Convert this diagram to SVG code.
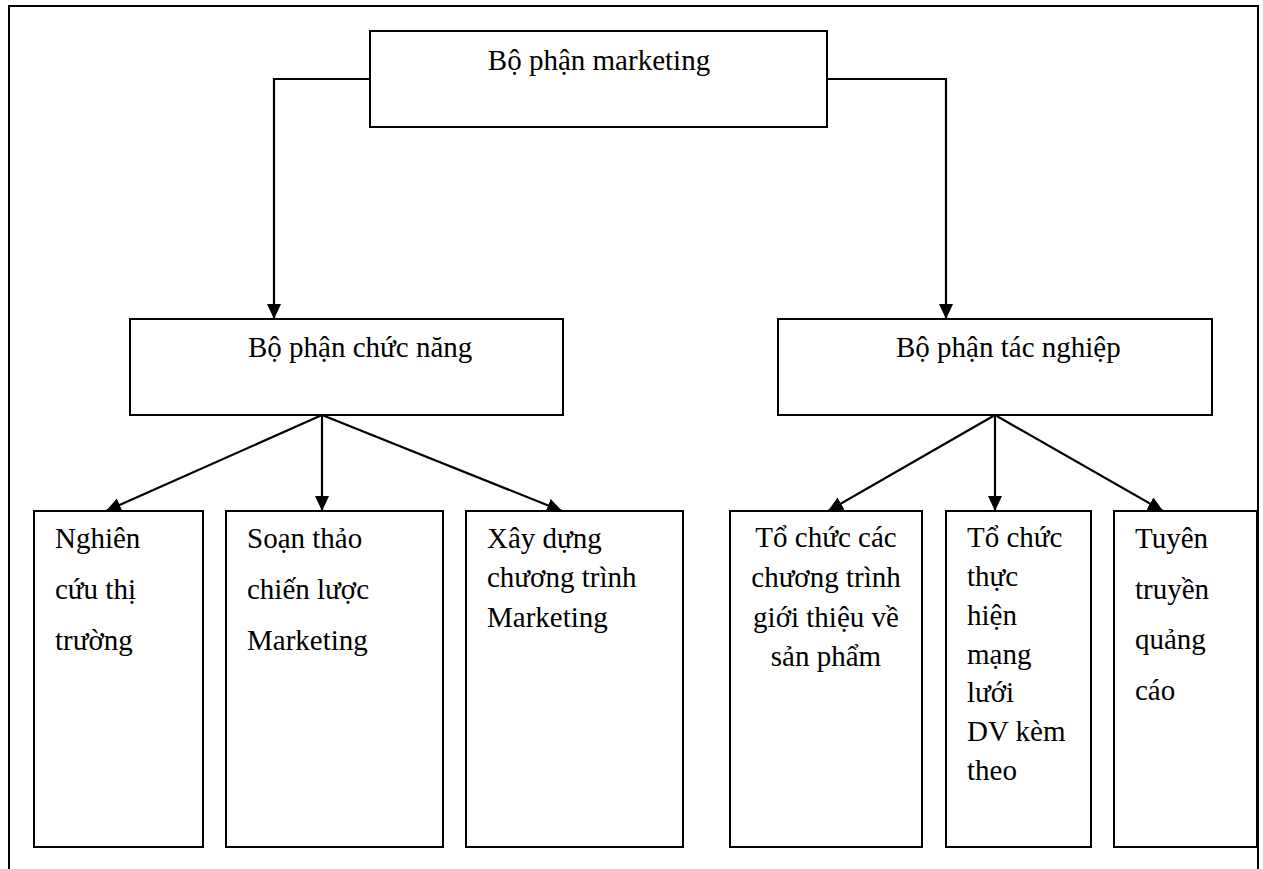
<svg xmlns="http://www.w3.org/2000/svg" width="1263" height="869" viewBox="0 0 1263 869">
  <style>
    .box { fill: #ffffff; stroke: #000000; stroke-width: 2; }
    .frame { fill: none; stroke: #000000; stroke-width: 2; }
    .link { fill: none; stroke: #000000; stroke-width: 2.2; }
    text { font-family: "Liberation Serif", "Times New Roman", serif; font-size: 29px; fill: #000000; }
    .mid { text-anchor: middle; }
  </style>
  <defs>
    <marker id="arrow" markerUnits="userSpaceOnUse" markerWidth="16" markerHeight="16" refX="15" refY="7" orient="auto">
      <path d="M0,0 L15,7 L0,14 z" fill="#000000"/>
    </marker>
  </defs>

  <rect width="1263" height="869" fill="#ffffff"/>

  <!-- outer frame, open at the bottom -->
  <path class="frame" d="M9,880 L9,6 L1258,6 L1258,880"/>

  <!-- connectors -->
  <g id="connectors">
    <path class="link" d="M370,79 L274,79 L274,319" marker-end="url(#arrow)"/>
    <path class="link" d="M827,79 L946,79 L946,319" marker-end="url(#arrow)"/>

    <line class="link" x1="322" y1="415" x2="106" y2="511" marker-end="url(#arrow)"/>
    <line class="link" x1="322" y1="415" x2="322" y2="511" marker-end="url(#arrow)"/>
    <line class="link" x1="322" y1="415" x2="562" y2="511" marker-end="url(#arrow)"/>

    <line class="link" x1="995" y1="415" x2="828" y2="511" marker-end="url(#arrow)"/>
    <line class="link" x1="995" y1="415" x2="995" y2="511" marker-end="url(#arrow)"/>
    <line class="link" x1="995" y1="415" x2="1163" y2="511" marker-end="url(#arrow)"/>
  </g>

  <!-- top level -->
  <g id="marketing">
    <rect class="box" x="370" y="31" width="457" height="96"/>
    <text class="mid" x="599" y="70">Bộ phận marketing</text>
  </g>

  <!-- second level -->
  <g id="chuc-nang">
    <rect class="box" x="130" y="319" width="433" height="96"/>
    <text x="248" y="357">Bộ phận chức năng</text>
  </g>
  <g id="tac-nghiep">
    <rect class="box" x="778" y="319" width="434" height="96"/>
    <text x="896" y="357">Bộ phận tác nghiệp</text>
  </g>

  <!-- third level: functional units -->
  <g id="nghien-cuu">
    <rect class="box" x="34" y="511" width="169" height="336"/>
    <text x="55" y="548">Nghiên</text>
    <text x="55" y="599">cứu thị</text>
    <text x="55" y="650">trường</text>
  </g>
  <g id="soan-thao">
    <rect class="box" x="226" y="511" width="217" height="336"/>
    <text x="247" y="548">Soạn thảo</text>
    <text x="247" y="599">chiến lược</text>
    <text x="247" y="650">Marketing</text>
  </g>
  <g id="xay-dung">
    <rect class="box" x="466" y="511" width="217" height="336"/>
    <text x="487" y="548">Xây dựng</text>
    <text x="487" y="587">chương trình</text>
    <text x="487" y="627">Marketing</text>
  </g>

  <!-- third level: operational units -->
  <g id="gioi-thieu">
    <rect class="box" x="730" y="511" width="192" height="336"/>
    <text class="mid" x="826" y="547">Tổ chức các</text>
    <text class="mid" x="826" y="587">chương trình</text>
    <text class="mid" x="826" y="627">giới thiệu về</text>
    <text class="mid" x="826" y="666">sản phẩm</text>
  </g>
  <g id="mang-luoi">
    <rect class="box" x="946" y="511" width="145" height="336"/>
    <text x="967" y="547">Tổ chức</text>
    <text x="967" y="586">thực</text>
    <text x="967" y="625">hiện</text>
    <text x="967" y="664">mạng</text>
    <text x="967" y="702">lưới</text>
    <text x="967" y="741">DV kèm</text>
    <text x="967" y="780">theo</text>
  </g>
  <g id="quang-cao">
    <rect class="box" x="1114" y="511" width="143" height="336"/>
    <text x="1135" y="548">Tuyên</text>
    <text x="1135" y="599">truyền</text>
    <text x="1135" y="649">quảng</text>
    <text x="1135" y="700">cáo</text>
  </g>
</svg>
